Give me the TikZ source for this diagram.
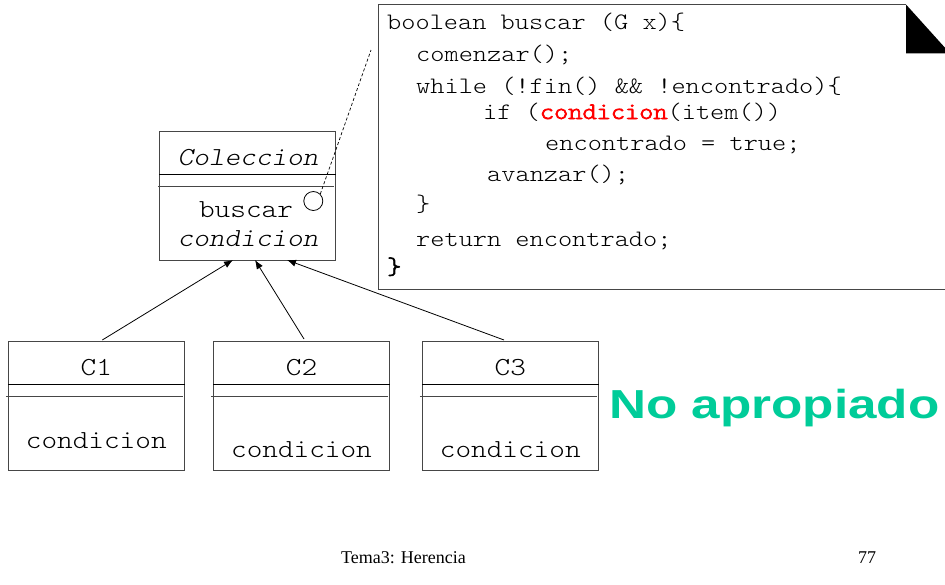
\documentclass[tikz,border=0pt]{standalone}
\usepackage{fontspec}
\usepackage{graphicx}
\setmainfont{Liberation Serif}
\newfontfamily\codefont{lmmonolt10-regular}[Extension=.otf,
  BoldFont=lmmonolt10-regular, BoldFeatures={FakeBold=3},
  ItalicFont=lmmonolt10-oblique, FakeStretch=1.145]
\newfontfamily\headsans{Liberation Sans}
\usetikzlibrary{arrows.meta,calc}
\definecolor{okgreen}{RGB}{0,204,153}
\definecolor{codered}{RGB}{255,0,0}
\definecolor{edge}{RGB}{70,70,70}

\begin{document}
\begin{tikzpicture}[x=1pt,y=-1pt,
  classbox/.style={draw=edge,line width=0.9pt,rectangle,inner sep=0pt,outer sep=0pt,
                   minimum width=176.4pt,minimum height=128.3pt},
  septhick/.style={draw=black,line width=1.2pt},
  septhin/.style={draw=edge,line width=0.9pt},
  boxtext/.style={inner sep=0pt,anchor=base,font=\fontsize{26}{26}\selectfont\codefont},
  codeline/.style={inner sep=0pt,anchor=base west,font=\fontsize{23.6}{23.6}\selectfont\codefont},
  inherit/.style={draw=black,line width=0.8pt,-{Latex[length=9pt,width=7pt]}},
  footer/.style={inner sep=0pt,anchor=base west,font=\fontsize{18}{18}\selectfont\rmfamily},
]
\useasboundingbox (0,0) rectangle (945,584);
\clip (0,0) rectangle (945,584);

% ---- code note with folded corner ----
\path[fill=white] (378,4.5) rectangle (950,289.3);
\draw[edge,line width=0.9pt] (906,4.5) -- (378,4.5) -- (378,289.3) -- (950,289.3);
\fill[black] (906,4.5) -- (950,53.3) -- (906,53.3) -- cycle;
\coordinate (notept) at (371,50);

\node[codeline] (code1) at (387,29.3) {boolean buscar (G x)\{};
\node[codeline] (code2) at (416,61.7) {comenzar();};
\node[codeline] (code3) at (416,93.3) {while (!fin() \&\& !encontrado)\{};
\node[codeline] (code4) at (483,119) {if (\textcolor{codered}{\bfseries condicion}(item())};
\node[codeline] (code5) at (545,150) {encontrado = true;};
\node[codeline] (code6) at (487,181.7) {avanzar();};
\node[codeline] (code7) at (416,211.5) {\}};
\node[codeline] (code8) at (416,246) {return encontrado;};
\node[codeline] (code9) at (387,274) {\bfseries\}};

% ---- superclass ----
\node[classbox] (col) at (247.5,195.85) {};
\draw[septhick] ($(col.north west)+(0,42.6)$) -- ($(col.north east)+(0,42.6)$);
\draw[septhin] ($(col.north west)+(-1.3,55)$) -- ($(col.north east)+(-1.7,55)$);
\node[boxtext,font=\fontsize{26}{26}\selectfont\codefont\itshape] (colname) at (248,165) {Coleccion};
\node[boxtext] (colop1) at (246,217.7) {buscar};
\node[boxtext,font=\fontsize{26}{26}\selectfont\codefont\itshape] (colop2) at (248,246.7) {condicion};
\node[draw=black,line width=0.8pt,circle,inner sep=0pt,minimum size=19pt] (circ) at (313.3,201) {};
\draw[dashed,dash pattern=on 3pt off 2.2pt,line width=0.7pt] (circ.north east) -- (notept);

% ---- subclasses ----
\foreach \nm/\cx/\lbl/\yb in {c1/96.3/C1/448.3, c2/301.5/C2/457.5, c3/510.3/C3/457.5}{
  \node[classbox] (\nm) at (\cx,405.85) {};
  \draw[septhick] ($(\nm.north west)+(0,42.6)$) -- ($(\nm.north east)+(0,42.6)$);
  \draw[septhin] ($(\nm.north west)+(-2.3,55)$) -- ($(\nm.north east)+(-1.3,55)$);
  \node[boxtext] (\nm name) at (\cx,375) {\lbl};
  \node[boxtext] (\nm op) at (\cx,\yb) {condicion};
}

% ---- inheritance arrows ----
\draw[inherit] ($(c1.north)+(6,-1.7)$) -- ($(col.south)+(-14.5,0)$);
\draw[inherit] ($(c2.north)+(2.5,-2.7)$) -- ($(col.south)+(7.5,0)$);
\draw[inherit] ($(c3.north)+(-6.3,-1.7)$) -- ($(col.south)+(39.5,0)$);

% ---- verdict ----
\node[inner sep=0pt,anchor=base west,text=okgreen,
      font=\fontsize{40.5}{40.5}\selectfont\headsans\bfseries] (verdict) at (609,418.3)
      {\scalebox{1.265}[1]{No apropiado}};

% ---- footer ----
\node[footer] (foot) at (341,563.3) {Tema3: Herencia};
\node[footer] (page) at (858,563.3) {77};
\end{tikzpicture}
\end{document}
